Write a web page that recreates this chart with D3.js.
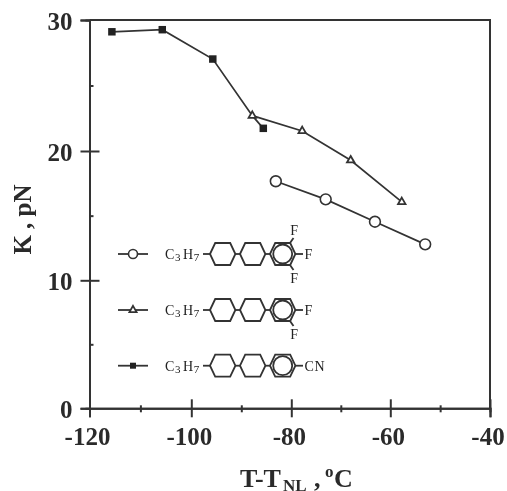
<!DOCTYPE html>
<html>
<head>
<meta charset="utf-8">
<script src="https://cdn.jsdelivr.net/npm/d3@7"></script>
<style>
  html, body { margin: 0; padding: 0; background: #fff; overflow: hidden; }
  svg { display: block; filter: blur(0.45px); }
  text { font-family: "Liberation Serif", serif; fill: #2a2a2a; }
  .axis text { font-weight: bold; font-size: 25px; font-family: "Liberation Serif", serif; fill: #2a2a2a; }
  .axis path, .axis line { stroke: #333; stroke-width: 2; }
  .series { fill: none; stroke: #333; stroke-width: 1.7; }
  .bond { fill: none; stroke: #333; stroke-width: 1.8; }
  .chem { font-size: 14px; fill: #222; letter-spacing: 0.6px; }
</style>
</head>
<body>
<div id="chart"></div>
<script>
// values
var squareT = [-115.6, -105.7, -95.7, -87.8, -85.6];
var squareK = [29.1, 29.26, 27.02, 22.7, 21.73];
// the 4th point only bends through the triangle, it has no square on it
var squareMarked = [true, true, true, false, true];

var triangleT = [-87.8, -77.8, -68, -57.7];
var triangleK = [22.7, 21.53, 19.28, 16.06];

var circleT = [-83.1, -73.05, -63.1, -53];
var circleK = [17.66, 16.26, 14.53, 12.78];

var xMajor = [-120, -100, -80, -60, -40];
var xMinor = [-110, -90, -70, -50];
var yMajor = [0, 10, 20, 30];
var yMinor = [5, 15, 25];

var tailGroup = ["F", "F", "CN"];

var width = 507, height = 491;

// the scan is not quite even, so the scales are pinned at each major tick
var x = d3.scaleLinear().domain(xMajor).range([89.5, 191.3, 291.3, 390.3, 490]);
var y = d3.scaleLinear().domain(yMajor).range([408.3, 280.3, 151, 20]);

var svg = d3.select("#chart").append("svg")
    .attr("width", width)
    .attr("height", height);

var g = svg.append("g");

// frame, top and right have no ticks
g.append("path")
    .attr("d", "M" + x(-120) + "," + y(30) + "H" + x(-40) + "V" + y(0))
    .attr("fill", "none")
    .attr("stroke", "#333")
    .attr("stroke-width", 2);

// axes
var xAxis = g.append("g")
    .attr("class", "axis")
    .attr("transform", "translate(0," + y(0) + ")")
    .call(d3.axisBottom(x).tickValues(xMajor).tickSizeOuter(0).tickSize(9).tickPadding(10)
      .tickFormat(function(d) { return String(d); }));
xAxis.selectAll(".tick line").attr("y1", function(d) { return d == -120 ? 0 : -9; });
xAxis.selectAll(".tick text").attr("dx", -2.5);

var xAxisMinor = g.append("g")
    .attr("class", "axis")
    .attr("transform", "translate(0," + y(0) + ")")
    .call(d3.axisBottom(x).tickValues(xMinor).tickSizeOuter(0).tickSize(4).tickFormat(""));
xAxisMinor.selectAll(".tick line").attr("y1", -3);

var yAxis = g.append("g")
    .attr("class", "axis")
    .attr("transform", "translate(" + x(-120) + ",0)")
    .call(d3.axisLeft(y).tickValues(yMajor).tickSizeOuter(0).tickSize(9).tickPadding(8)
      .tickFormat(function(d) { return String(d); }));
yAxis.selectAll(".tick line").attr("x2", function(d) { return d == 0 || d == 30 ? 0 : 10; }).attr("x1", -9);
yAxis.selectAll(".tick text").attr("dy", "0.38em");

var yAxisMinor = g.append("g")
    .attr("class", "axis")
    .attr("transform", "translate(" + x(-120) + ",0)")
    .call(d3.axisLeft(y).tickValues(yMinor).tickSizeOuter(0).tickSize(4).tickFormat(""));
yAxisMinor.selectAll(".tick line").attr("x2", 4);

// axis titles
var xLabel = svg.append("text")
    .attr("x", 240)
    .attr("y", 486.5)
    .style("font-weight", "bold")
    .style("font-size", "26px");
xLabel.append("tspan").text("T-T");
xLabel.append("tspan").attr("x", 283).attr("dy", 4.5).style("font-size", "17px").text("NL");
xLabel.append("tspan").attr("x", 314).attr("dy", -4.5).text(",");
xLabel.append("tspan").attr("x", 325).attr("dy", -10).style("font-size", "17px").text("o");
xLabel.append("tspan").attr("x", 334).attr("dy", 10).text("C");

svg.append("text")
    .attr("transform", "translate(31,219.5) rotate(-90)")
    .attr("text-anchor", "middle")
    .style("font-weight", "bold")
    .style("font-size", "25px")
    .text("K , pN");

// series
var line = d3.line()
    .x(function(d) { return x(d[0]); })
    .y(function(d) { return y(d[1]); });

g.append("path").attr("class", "series").attr("d", line(d3.zip(squareT, squareK)));
g.append("path").attr("class", "series").attr("d", line(d3.zip(triangleT, triangleK)));
g.append("path").attr("class", "series").attr("d", line(d3.zip(circleT, circleK)));

function drawSquare(sel, size) {
  sel.append("path")
      .attr("d", d3.symbol().type(d3.symbolSquare).size(size))
      .attr("fill", "#222");
}
function drawTriangle(sel, size) {
  sel.append("path")
      .attr("d", d3.symbol().type(d3.symbolTriangle).size(size))
      .attr("fill", "#fff")
      .attr("stroke", "#333")
      .attr("stroke-width", 1.8);
}
function drawCircle(sel, r) {
  sel.append("circle")
      .attr("r", r)
      .attr("fill", "#fff")
      .attr("stroke", "#333")
      .attr("stroke-width", 1.6);
}

g.selectAll(".sq")
    .data(d3.zip(squareT, squareK).filter(function(d, i) { return squareMarked[i]; }))
  .enter().append("g")
    .attr("class", "sq")
    .attr("transform", function(d) { return "translate(" + x(d[0]) + "," + y(d[1]) + ")"; })
    .call(drawSquare, 56);

g.selectAll(".tri")
    .data(d3.zip(triangleT, triangleK))
  .enter().append("g")
    .attr("class", "tri")
    .attr("transform", function(d) { return "translate(" + x(d[0]) + "," + y(d[1]) + ")"; })
    .call(drawTriangle, 24);

g.selectAll(".circ")
    .data(d3.zip(circleT, circleK))
  .enter().append("g")
    .attr("class", "circ")
    .attr("transform", function(d) { return "translate(" + x(d[0]) + "," + y(d[1]) + ")"; })
    .call(drawCircle, 5.4);

// legend with the three molecules
function hexagon(cx, cy, rx, ry) {
  var dx = rx * 0.59;
  return "M" + (cx - rx) + "," + cy +
    "L" + (cx - dx) + "," + (cy - ry) +
    "L" + (cx + dx) + "," + (cy - ry) +
    "L" + (cx + rx) + "," + cy +
    "L" + (cx + dx) + "," + (cy + ry) +
    "L" + (cx - dx) + "," + (cy + ry) + "Z";
}

function drawMolecule(cy, fluorines, tail) {
  var mol = svg.append("g").attr("transform", "translate(0," + cy + ")");

  mol.append("line").attr("class", "bond")
      .attr("x1", 118).attr("x2", 148).attr("y1", 0).attr("y2", 0);

  var chain = mol.append("text").attr("class", "chem").attr("x", 165).attr("y", 5);
  chain.append("tspan").text("C");
  chain.append("tspan").attr("dy", 2).style("font-size", "11px").text("3");
  chain.append("tspan").attr("dy", -2).attr("dx", 2).text("H");
  chain.append("tspan").attr("dy", 2).style("font-size", "11px").text("7");

  mol.append("line").attr("class", "bond").attr("x1", 203).attr("x2", 210).attr("y1", 0).attr("y2", 0);

  [222.7, 252.7, 282.7].forEach(function(cx) {
    mol.append("path").attr("class", "bond").attr("d", hexagon(cx, 0, 12.7, 11));
  });
  mol.append("line").attr("class", "bond").attr("x1", 235.4).attr("x2", 240).attr("y1", 0).attr("y2", 0);
  mol.append("line").attr("class", "bond").attr("x1", 265.4).attr("x2", 270).attr("y1", 0).attr("y2", 0);
  mol.append("circle").attr("class", "bond").attr("cx", 282.7).attr("cy", 0).attr("r", 9.5);

  mol.append("line").attr("class", "bond").attr("x1", 295.4).attr("x2", 303).attr("y1", 0).attr("y2", 0);
  mol.append("text").attr("class", "chem").attr("x", 304.5).attr("y", 5).text(tail);

  if (fluorines > 1) {
    mol.append("line").attr("class", "bond").attr("x1", 290).attr("x2", 293.5).attr("y1", 11).attr("y2", 16);
    mol.append("text").attr("class", "chem").attr("x", 294.5).attr("y", 29).attr("text-anchor", "middle").text("F");
  }
  if (fluorines > 2) {
    mol.append("line").attr("class", "bond").attr("x1", 290).attr("x2", 293.5).attr("y1", -11).attr("y2", -16);
    mol.append("text").attr("class", "chem").attr("x", 294.5).attr("y", -19).attr("text-anchor", "middle").text("F");
  }
  return mol;
}

drawMolecule(254, 3, tailGroup[0]).append("g")
    .attr("transform", "translate(133,0)").call(drawCircle, 4.5);
drawMolecule(310, 2, tailGroup[1]).append("g")
    .attr("transform", "translate(133,0)").call(drawTriangle, 22);
drawMolecule(365.7, 1, tailGroup[2]).append("g")
    .attr("transform", "translate(133,0)").call(drawSquare, 36);
</script>
</body>
</html>
